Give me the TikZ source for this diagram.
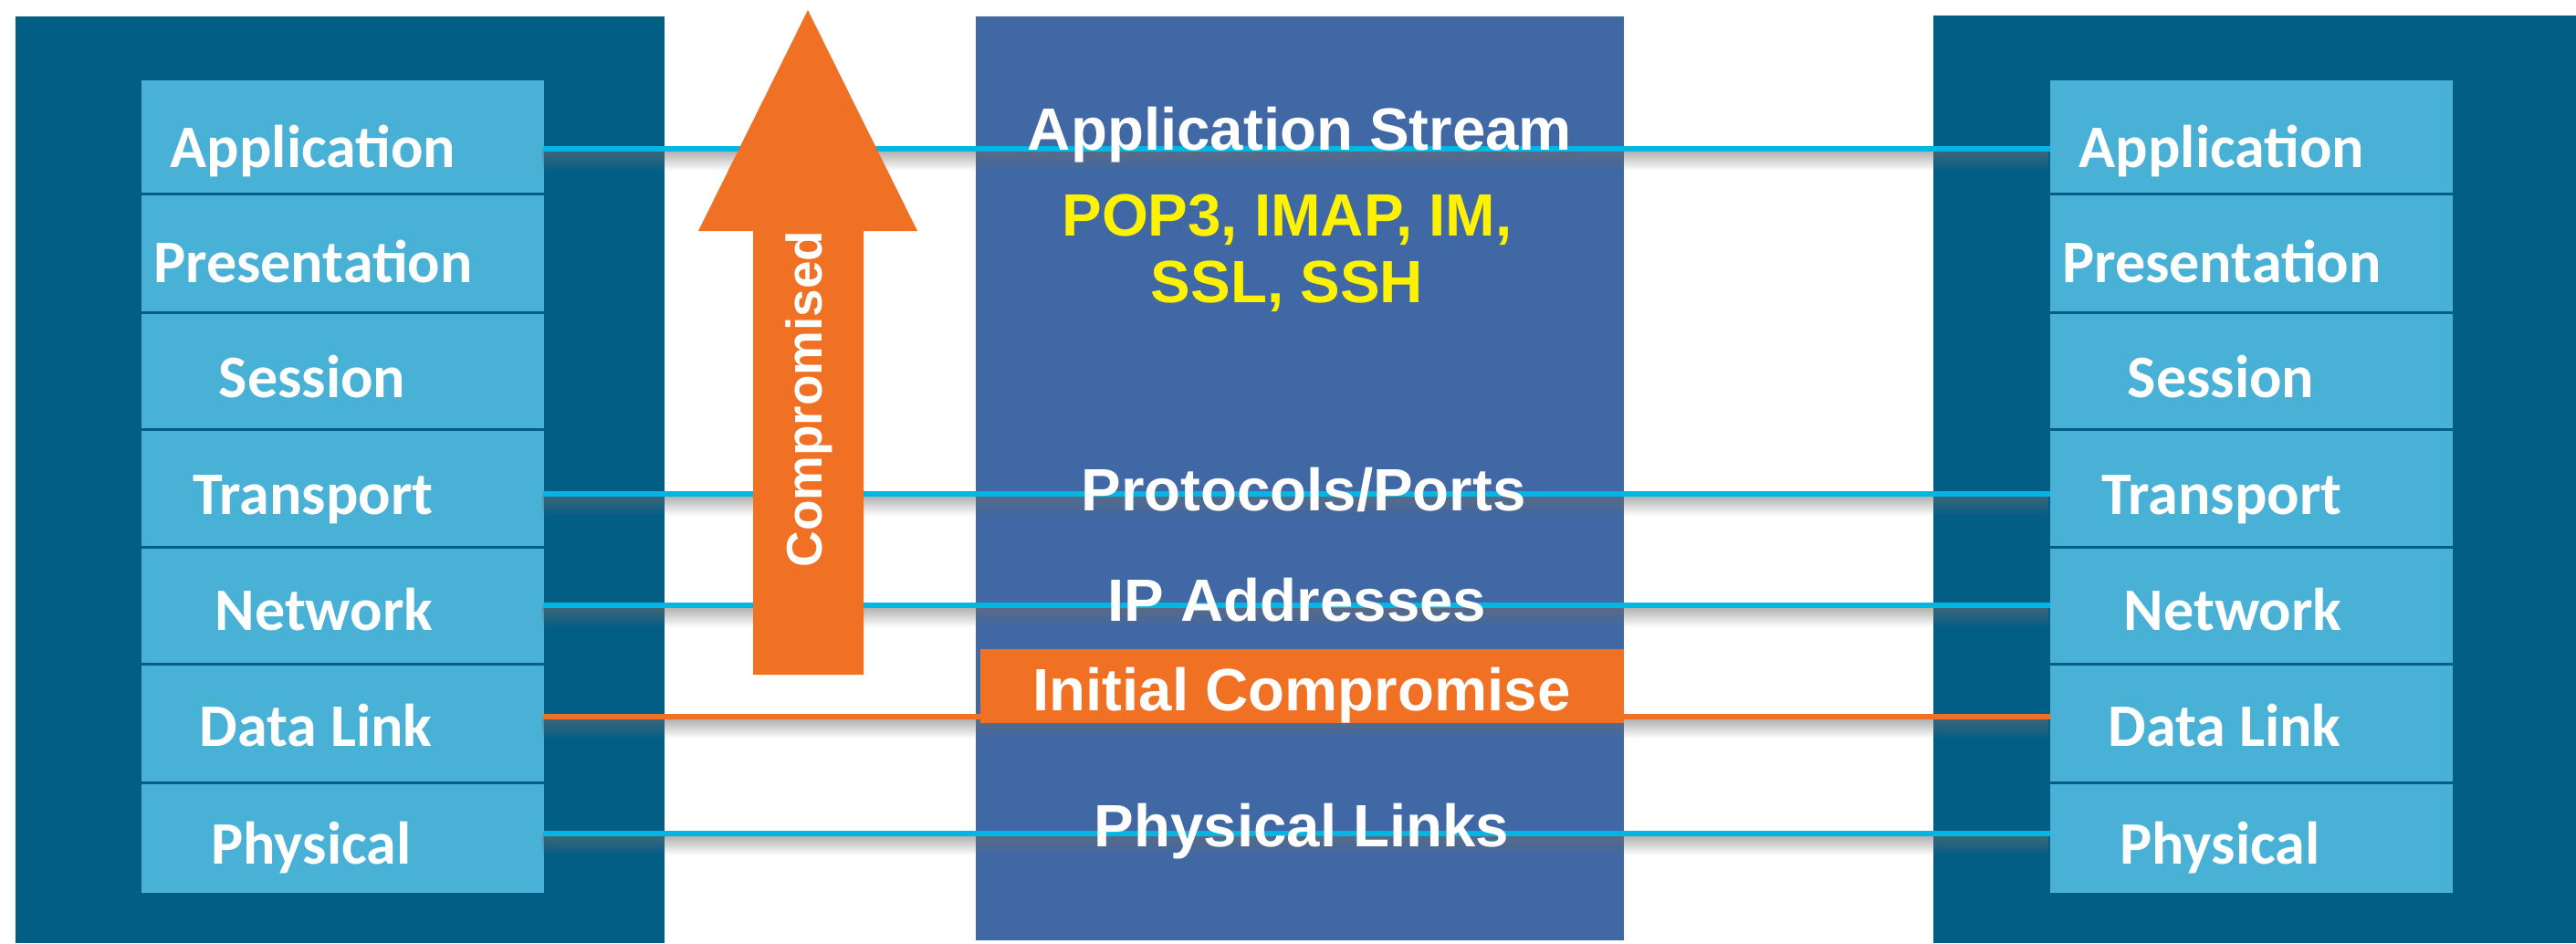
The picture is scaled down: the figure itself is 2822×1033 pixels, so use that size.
\documentclass[tikz,border=0pt]{standalone}
\usepackage{fontspec}
\setmainfont{Liberation Sans}
\newfontfamily\layerfont{Carlito}
\usetikzlibrary{fadings}

\definecolor{osidark}{RGB}{3,94,134}
\definecolor{osilight}{RGB}{73,176,214}
\definecolor{streamblue}{RGB}{64,104,164}
\definecolor{alertorange}{RGB}{240,113,36}
\definecolor{linkcyan}{RGB}{0,183,228}
\definecolor{shadowgray}{RGB}{110,110,110}

\tikzset{
  layerlabel/.style={anchor=base, inner sep=0pt, text=white,
    font=\layerfont\bfseries\fontsize{18.8}{20}\selectfont},
  flowlabel/.style={anchor=base, inner sep=0pt, text=white,
    font=\bfseries\fontsize{18.6}{20.8}\selectfont},
  linkline/.style={line width=0.06cm},
  linkshadow/.style={fill=shadowgray, opacity=0.55, path fading=south}
}

\begin{document}
\begin{tikzpicture}[x=0.01cm, y=-0.01cm]
    \useasboundingbox (0,0) rectangle (2822,1033);

    % Host boxes and stream box
    \fill[osidark] (17,18) rectangle (728,1033);
    \fill[osidark] (2118,17) rectangle (2822,1033);
    \fill[streamblue] (1069,18) rectangle (1779,1030);

    % Layer stacks
    \foreach \xo in {155,2246} {
        \fill[osilight] (\xo,88) rectangle ++(441,890);
        \foreach \ys in {212,342,470,599,727,857}
            \draw[osidark, line width=0.03cm] (\xo,\ys) -- ++(441,0);
    }

    % Link end points
    \coordinate (lapp) at (595,163);
    \coordinate (rapp) at (2246,163);
    \coordinate (ltra) at (595,541);
    \coordinate (rtra) at (2246,541);
    \coordinate (lnet) at (595,663);
    \coordinate (rnet) at (2246,663);
    \coordinate (ldat) at (595,785);
    \coordinate (rdat) at (2246,785);
    \coordinate (lphy) at (595,913);
    \coordinate (rphy) at (2246,913);

    % Shadows under links
    \foreach \yl in {163,541,663,785,913}
        \fill[linkshadow] (595,\yl+2) rectangle (2246,\yl+24);

    \draw[linkline, linkcyan] (lapp) -- (rapp);
    \draw[linkline, linkcyan] (ltra) -- (rtra);
    \draw[linkline, linkcyan] (lnet) -- (rnet);
    \draw[linkline, alertorange] (ldat) -- (rdat);
    \draw[linkline, linkcyan] (lphy) -- (rphy);

    % Upward arrow
    \fill[alertorange] (825,739) -- (825,253) -- (765,253) -- (885,11)
        -- (1005,253) -- (946,253) -- (946,739) -- cycle;
    \node[anchor=base, inner sep=0pt, text=white, rotate=90,
        font=\bfseries\fontsize{15.6}{18}\selectfont] (compr) at (900,437) {Compromised};

    \fill[alertorange] (1074,711) rectangle (1779,792);

    % Layer names
    \foreach \name/\dx/\yb [count=\i] in {Application/188/183, Presentation/188/309,
        Session/187/435, Transport/188/563, Network/200/690, Data Link/191/817,
        Physical/186/946} {
        \node[layerlabel] (left\i) at (155+\dx,\yb) {\name};
        \node[layerlabel] (right\i) at (2246+\dx,\yb) {\name};
    }

    % Stream labels
    \node[flowlabel] (stream) at (1424,164) {Application Stream};
    \node[flowlabel, text=yellow] (apps) at (1410,258) {POP3, IMAP, IM,};
    \node[flowlabel, text=yellow] (sec) at (1410,331) {SSL, SSH};
    \node[flowlabel] (ports) at (1428,559) {Protocols/Ports};
    \node[flowlabel] (ipaddr) at (1421,680) {IP Addresses};
    \node[flowlabel] (initial) at (1426,778) {Initial Compromise};
    \node[flowlabel] (phys) at (1426,927) {Physical Links};
\end{tikzpicture}
\end{document}
